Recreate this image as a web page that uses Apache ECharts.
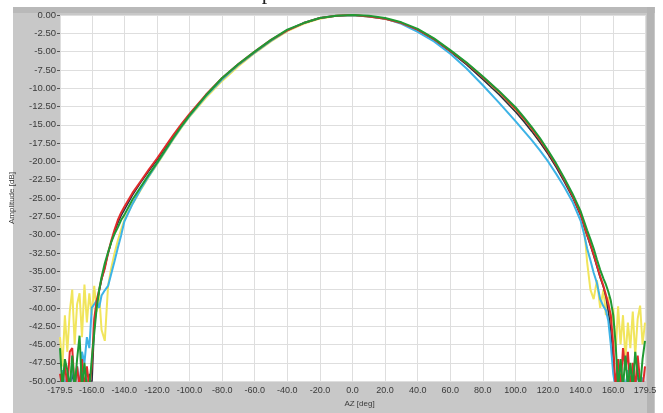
<!DOCTYPE html>
<html>
<head>
<meta charset="utf-8">
<script src="https://cdn.jsdelivr.net/npm/echarts@6/dist/echarts.min.js"></script>
<style>
  html, body { margin: 0; padding: 0; background: #ffffff; }
  #wrap { position: relative; width: 663px; height: 413px; overflow: hidden; background: #ffffff; }
  #panel { position: absolute; left: 13px; top: 7px; width: 642px; height: 406px; background: #c8c8c8; }
  #band { position: absolute; left: 13px; top: 7px; width: 642px; height: 6px; background: #b9b9b9; }
  #rband { position: absolute; left: 647px; top: 7px; width: 7px; height: 406px; background: #b4b4b4; }
  #chart { position: absolute; left: 0; top: 0; width: 663px; height: 413px; }
</style>
</head>
<body>
<div id="wrap">
  <div id="panel"></div>
  <div id="band"></div>
  <div id="rband"></div>
  <div id="chart"></div>
</div>
<script>
// Azimuth positions (deg)
const az = [
  -179.5, -178, -176.5, -175, -173.5, -172, -170.5, -169, -167.5, -166, -164.5, -163, -161.5, -160,
  -158.5, -157, -155.5, -154,
  -152, -150, -148, -146, -144, -142, -140,
  -135, -130, -125, -120, -115, -110, -105, -100,
  -90, -80, -70, -60, -50, -40, -30, -20, -10,
  0,
  10, 20, 30, 40, 50, 60, 70, 80, 90,
  100, 105, 110, 115, 120, 125, 130, 135,
  140, 142, 144, 146, 148, 150, 152, 154,
  155.5, 157, 158.5,
  160, 161.5, 163, 164.5, 166, 167.5, 169, 170.5, 172, 173.5, 175, 176.5, 178, 179.5
];

// Amplitude (dB) per trace
const yellowAmp = [
  -44, -48, -41, -46, -40.5, -37.5, -45, -39.5, -38, -44, -36.8, -42, -38, -41,
  -37, -40.5, -38, -43,
  -44.5, -37, -34.5, -32.5, -30.8, -29.3, -28.0,
  -25.8, -23.9, -22.1, -20.4, -18.7, -17.0, -15.4, -13.9,
  -11.3, -9.0, -7.0, -5.2, -3.6, -2.2, -1.2, -0.5, -0.1,
  0,
  -0.2, -0.5, -1.1, -2.0, -3.3, -4.9, -6.7, -8.7, -10.8,
  -13.1, -14.4, -15.8, -17.3, -18.9, -20.6, -22.5, -24.6,
  -27.0, -28.4, -33.8, -37.5, -38.8, -36.2, -40, -37.5,
  -41, -38.5, -43,
  -40, -46, -39.8, -45, -41, -47, -42, -45.5, -40.5, -46.5, -41.5, -39.7, -45, -42
];

const darkAmp = [
  -51, -49, -51, -50, -51, -49, -51, -51, -49.5, -51, -50, -51, -49, -51,
  -43, -39.5, -37.8, -36.2,
  -34.5, -32.6, -31, -29.6, -28.4, -27.4, -26.6,
  -24.6, -22.9, -21.3, -19.8, -18.2, -16.6, -15.0, -13.6,
  -11, -8.7, -6.8, -5.1, -3.5, -2.1, -1.1, -0.4, -0.1,
  0,
  -0.2, -0.5, -1.1, -2.1, -3.4, -5.0, -6.8, -8.8, -10.9,
  -13.2, -14.5, -15.9, -17.4, -19.0, -20.8, -22.8, -24.9,
  -27.4, -28.8, -30.2, -31.5, -32.9, -34.4, -35.9, -37.2,
  -38.5, -40.5, -43,
  -47, -51, -49, -51, -50, -51, -48.5, -51, -50, -51, -49, -51, -50, -51
];

const cyanAmp = [
  -51, -48.5, -51, -49, -51, -47.5, -51, -48, -51, -46, -47.5, -44, -45.5, -40,
  -39.5, -39, -40, -38.3,
  -37.6, -37, -35.3, -33.6, -31.8, -30.1, -28.2,
  -25.8, -23.8, -22.0, -20.3, -18.6, -16.9, -15.3, -13.8,
  -11.1, -8.8, -6.8, -5.1, -3.5, -2.1, -1.1, -0.4, -0.1,
  -0.05,
  -0.2, -0.5, -1.2, -2.3, -3.6, -5.3, -7.3, -9.6, -12.0,
  -14.5, -15.8, -17.1, -18.5, -20.0, -21.7, -23.5, -25.5,
  -28.1, -29.8, -31.9, -33.5, -35.2, -36.6, -38.8, -39.8,
  -40.3, -41.8, -45,
  -49, -51, -48.5, -51, -49.5, -51, -48.5, -51, -49, -51, -48.5, -51, -49.5, -51
];

const redAmp = [
  -49, -51, -47.5, -51, -46, -45.5, -51, -48, -51, -47, -51, -48, -51, -48,
  -41.5, -39, -37.6, -36,
  -34.6, -32.5, -30.8, -29.3, -28, -27, -26.2,
  -24.3, -22.7, -21.1, -19.6, -18, -16.4, -14.9, -13.5,
  -10.9, -8.6, -6.7, -5.0, -3.4, -2.1, -1.1, -0.4, -0.1,
  0,
  -0.2, -0.5, -1.1, -2.0, -3.3, -4.9, -6.6, -8.5, -10.5,
  -12.8, -14.1, -15.5, -17.0, -18.7, -20.5, -22.5, -24.7,
  -27.2, -28.6, -30.0, -31.3, -32.7, -34.2, -35.7, -37.0,
  -38.2, -39.5, -41,
  -45, -51, -47, -51, -45.5, -48.5, -46, -51, -47.5, -51, -46.5, -50, -51, -48
];

const greenAmp = [
  -45.5, -51, -47, -48.5, -51, -46.5, -51, -47, -43.8, -51, -47.5, -51, -51, -47,
  -43.5, -40, -37.6, -35.8,
  -33.9, -32.4, -31, -29.9, -29, -28, -27.3,
  -25.2, -23.5, -21.8, -20.2, -18.5, -16.8, -15.2, -13.7,
  -11, -8.6, -6.7, -5, -3.4, -2.0, -1.1, -0.4, -0.1,
  0,
  -0.1, -0.4, -1.0, -1.9, -3.2, -4.8, -6.5, -8.4, -10.4,
  -12.6, -13.9, -15.3, -16.8, -18.5, -20.3, -22.3, -24.4,
  -26.8, -28.1, -29.4, -30.6, -31.9, -33.4, -34.8, -36.0,
  -36.8, -37.8, -39,
  -41, -45, -51, -47, -51, -46.5, -51, -47.5, -51, -46, -49, -51, -47, -44.5
];

// Tick values
const xTicks = [-179.5, -160, -140, -120, -100, -80, -60, -40, -20, 0, 20, 40, 60, 80, 100, 120, 140, 160, 179.5];
const yMin = -50, yMax = 0, yStep = 2.5;
const titleText = 'pattern at each rate';

const traces = [
  { name: 'yellow', data: yellowAmp, color: '#f1e55c', width: 2 },
  { name: 'dark',   data: darkAmp,   color: '#2a2c40', width: 1.5 },
  { name: 'cyan',   data: cyanAmp,   color: '#3db3e6', width: 2 },
  { name: 'red',    data: redAmp,    color: '#e02a2a', width: 2 },
  { name: 'green',  data: greenAmp,  color: '#1f9a33', width: 2 }
];

const chart = echarts.init(document.getElementById('chart'), null, { renderer: 'canvas' });
const labelFont = { fontFamily: 'Liberation Sans, Arial, sans-serif', fontSize: 9.5, color: '#3a3a3a' };

chart.setOption({
  animation: false,
  backgroundColor: 'transparent',
  graphic: [{
    type: 'text',
    x: 345, y: -18,
    z: 100,
    style: {
      text: titleText,
      fontFamily: 'Liberation Serif, Times New Roman, serif',
      fontSize: 22,
      fill: '#222',
      textAlign: 'center',
      textVerticalAlign: 'top'
    }
  }],
  grid: { left: 60, right: 18, top: 15, bottom: 30, show: true, backgroundColor: '#ffffff', borderWidth: 0 },
  xAxis: {
    type: 'value', min: -179.5, max: 179.5,
    name: 'AZ [deg]', nameLocation: 'middle', nameGap: 17,
    nameTextStyle: { fontFamily: 'Liberation Sans, Arial, sans-serif', fontSize: 8, color: '#3a3a3a', padding: [0, 0, 0, 14] },
    axisLine: { show: false, onZero: false },
    axisTick: { show: false, customValues: xTicks },
    axisLabel: { customValues: xTicks, margin: 5, formatter: v => v.toFixed(1), ...labelFont, fontSize: 9 },
    splitLine: { show: true, lineStyle: { color: '#dedede', width: 1 } }
  },
  yAxis: {
    type: 'value', min: yMin, max: yMax, interval: yStep,
    name: 'Amplitude [dB]', nameLocation: 'middle', nameGap: 44, nameRotate: 90,
    nameTextStyle: { fontFamily: 'Liberation Sans, Arial, sans-serif', fontSize: 8, color: '#3a3a3a' },
    axisLine: { show: false, onZero: false },
    axisTick: { show: true, length: 3, inside: false, lineStyle: { color: '#555' } },
    axisLabel: { margin: 4, formatter: v => v.toFixed(2), ...labelFont },
    splitLine: { show: true, lineStyle: { color: '#dedede', width: 1 } }
  },
  series: traces.map(t => ({
    name: t.name,
    type: 'line',
    showSymbol: false,
    clip: true,
    data: az.map((a, i) => [a, t.data[i]]),
    lineStyle: { color: t.color, width: t.width },
    itemStyle: { color: t.color }
  }))
});
</script>
</body>
</html>
